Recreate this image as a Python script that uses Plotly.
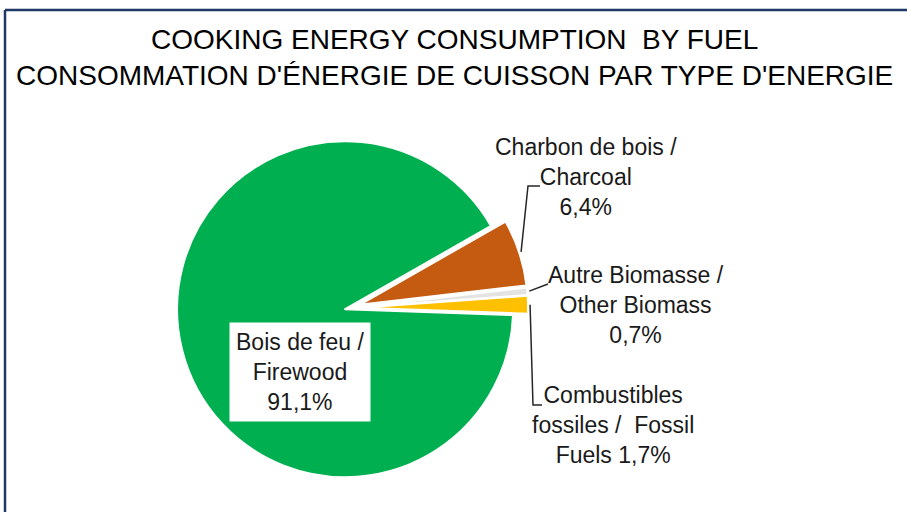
import math
import plotly.graph_objects as go

# ---- data ----
categories = [
    "Bois de feu /<br>Firewood",
    "Charbon de bois /<br>Charcoal",
    "Autre Biomasse /<br>Other Biomass",
    "Combustibles<br>fossiles /  Fossil<br>Fuels",
]
values = [91.1, 6.4, 0.7, 1.7]
value_joiners = ["<br>", "<br>", "<br>", " "]
title_lines = [
    "COOKING ENERGY CONSUMPTION  BY FUEL",
    "CONSOMMATION D'ÉNERGIE DE CUISSON PAR TYPE D'ENERGIE",
]

# ---- style ----
colors = ["#00B050", "#C55A11", "#E3E3E3", "#FFC000"]
pulls = [0.03, 0.06, 0.06, 0.06]
FONT = "Liberation Sans, Arial, sans-serif"
W, H = 907, 512
cx, cy, r = 350, 308, 168
rotation = 92
half = r * (1 + max(pulls))


def fx(x):
    return x / W


def fy(y):
    return 1 - y / H


def fmt(v):
    return f"{v:.1f}".replace(".", ",") + "%"


fig = go.Figure(
    go.Pie(
        labels=categories,
        values=values,
        sort=False,
        direction="clockwise",
        rotation=rotation,
        pull=pulls,
        textinfo="none",
        hoverinfo="label+percent",
        marker=dict(colors=colors, line=dict(color="white", width=2)),
        domain=dict(x=[fx(cx - half), fx(cx + half)], y=[fy(cy + half), fy(cy - half)]),
        showlegend=False,
    )
)

# slice mid angles (clockwise from 12 o'clock) derived from values
total = sum(values)
mids = []
acc = 0.0
for v in values:
    mids.append(rotation + (acc + v / 2) / total * 360)
    acc += v


def edge_point(i, extra=2):
    a = math.radians(mids[i])
    d = r * (1 + pulls[i]) + extra
    return cx + d * math.sin(a), cy - d * math.cos(a)


annotations = []
# title
for line, ty in zip(title_lines, [39, 75]):
    annotations.append(dict(
        text=line, x=fx(454), y=fy(ty), xref="paper", yref="paper",
        xanchor="center", yanchor="middle", showarrow=False,
        font=dict(family=FONT, size=28, color="#000000"),
    ))

label_pos = [(300, 372), (586, 177), (636, 305), (613, 425)]
for i, (name, v, j) in enumerate(zip(categories, values, value_joiners)):
    lx, ly = label_pos[i]
    ann = dict(
        text=name + j + fmt(v), x=fx(lx), y=fy(ly), xref="paper", yref="paper",
        xanchor="center", yanchor="middle", showarrow=False, align="center",
        font=dict(family=FONT, size=23, color="#1a1a1a"),
    )
    if i == 0:
        ann.update(bgcolor="white", borderpad=6)
    annotations.append(ann)

# leader lines
shapes = []
elbows = {
    1: [(528, 186), (540, 186)],
    2: [(548, 284)],
    3: [(533, 405), (542, 405)],
}
for i, pts in elbows.items():
    sx, sy = edge_point(i)
    path = f"M {fx(sx)},{fy(sy)}" + "".join(f" L {fx(x)},{fy(y)}" for x, y in pts)
    shapes.append(dict(type="path", path=path, xref="paper", yref="paper",
                       line=dict(color="#262626", width=1.5)))

# frame (top and left border)
shapes.append(dict(type="line", xref="paper", yref="paper", x0=fx(5), x1=1, y0=fy(10), y1=fy(10),
                   line=dict(color="#1F3864", width=2.5)))
shapes.append(dict(type="line", xref="paper", yref="paper", x0=fx(5), x1=fx(5), y0=fy(10), y1=0,
                   line=dict(color="#1F3864", width=2.5)))

fig.update_layout(
    width=W, height=H,
    margin=dict(l=0, r=0, t=0, b=0),
    paper_bgcolor="white", plot_bgcolor="white",
    annotations=annotations, shapes=shapes,
    showlegend=False,
)

fig.write_html("out.html", config={"displayModeBar": False},
               post_script="document.body.style.margin='0';")
